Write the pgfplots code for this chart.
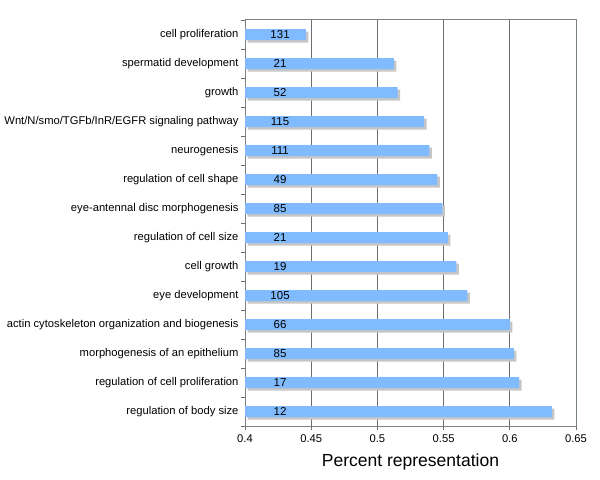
\documentclass[border=0pt]{standalone}
\usepackage{pgfplots}
\pgfplotsset{compat=1.18}
\usepackage{fontspec}
\setmainfont{Liberation Sans}
\usetikzlibrary{shadows}
\definecolor{barblue}{RGB}{128,187,255}
\definecolor{shadowgray}{RGB}{198,198,198}
\definecolor{gridgray}{RGB}{110,110,110}
\definecolor{framegray}{RGB}{120,130,130}
\begin{document}
\begin{tikzpicture}
\useasboundingbox (0,0) rectangle (600bp,480bp);
\begin{axis}[
  at={(245bp,54bp)}, anchor=south west,
  scale only axis, width=331bp, height=406bp,
  xmin=0.4, xmax=0.65, ymin=-0.5, ymax=13.5, y dir=reverse,
  xtick={0.4,0.45,0.5,0.55,0.6,0.65},
  minor xtick={0.4,0.45,0.5,0.55,0.6,0.65},
  ytick={0,1,2,3,4,5,6,7,8,9,10,11,12,13},
  minor ytick={-0.5,0.5,1.5,2.5,3.5,4.5,5.5,6.5,7.5,8.5,9.5,10.5,11.5,12.5,13.5},
  xtick pos=bottom, ytick pos=left,
  yticklabels={cell proliferation, spermatid development, growth, Wnt/N/smo/TGFb/InR/EGFR signaling pathway, neurogenesis, regulation of cell shape, eye-antennal disc morphogenesis, regulation of cell size, cell growth, eye development, actin cytoskeleton organization and biogenesis, morphogenesis of an epithelium, regulation of cell proliferation, regulation of body size},
  major tick length=0pt, minor tick length=4bp, tick align=outside,
  tick style={gridgray, line width=0.8bp},
  xmajorgrids, major grid style={gridgray, line width=0.8bp},
  axis line style={framegray, line width=1bp},
  /pgf/number format/assume math mode=true,
  /pgf/number format/fixed,
  tick label style={font=\fontsize{11.2bp}{13bp}\selectfont},
  yticklabel style={xshift=-3bp},
  xticklabel style={yshift=-5bp},
  xlabel={Percent representation},
  xlabel style={font=\fontsize{17.5bp}{20bp}\selectfont, yshift=-5bp},
  clip=true,
]
\addplot[xbar, bar width=11bp, fill=barblue, draw=none,
  drop shadow={shadow xshift=2.5bp, shadow yshift=-2.5bp, fill=shadowgray, opacity=1}]
  coordinates {
  (0.446,0) (0.5125,1) (0.5153,2) (0.5352,3) (0.5392,4) (0.5453,5) (0.549,6)
  (0.5533,7) (0.5596,8) (0.5679,9) (0.6001,10) (0.603,11) (0.607,12) (0.6317,13)
  };
\addplot[draw=none, mark=none, forget plot, nodes near coords,
  point meta=explicit symbolic,
  every node near coord/.style={font=\fontsize{11.5bp}{13bp}\selectfont, anchor=center, inner sep=0pt}]
  coordinates {
  (0.4265,0) [131] (0.4265,1) [21] (0.4265,2) [52] (0.4265,3) [115] (0.4265,4) [111]
  (0.4265,5) [49] (0.4265,6) [85] (0.4265,7) [21] (0.4265,8) [19] (0.4265,9) [105]
  (0.4265,10) [66] (0.4265,11) [85] (0.4265,12) [17] (0.4265,13) [12]
  };
\end{axis}
\end{tikzpicture}
\end{document}
